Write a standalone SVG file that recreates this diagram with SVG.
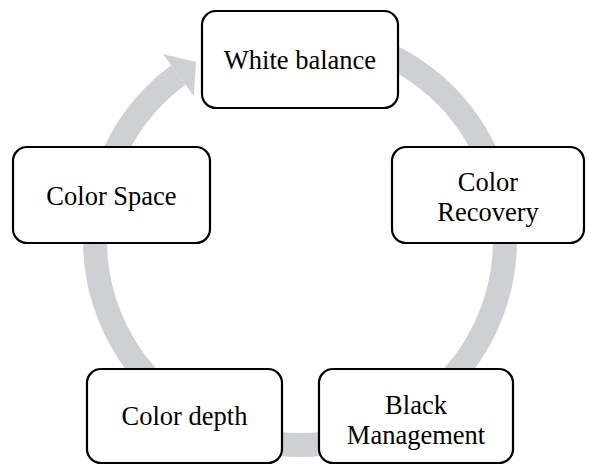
<svg xmlns="http://www.w3.org/2000/svg" width="589" height="465" viewBox="0 0 589 465">
  <style>
    .box { fill: #ffffff; stroke: #000000; stroke-width: 2.2; }
    .lbl { font-family: "Liberation Serif", "Times New Roman", Times, serif; font-size: 26.5px; fill: #000000; text-anchor: middle; }
    .ring { fill: none; stroke: #cfd0d3; stroke-width: 24; }
    .head { fill: #cfd0d3; }
  </style>
  <rect width="589" height="465" fill="#ffffff"/>
  <g id="connectors">
    <path class="ring" d="M 335.6 38.1 A 205 205 0 1 1 178.35 75.0"/>
    <polygon class="head" points="162.9,54.1 196,62 193.8,95.9"/>
  </g>
  <g id="white-balance">
    <rect class="box" x="202" y="11" width="196" height="97" rx="14"/>
    <text class="lbl" x="300" y="69">White balance</text>
  </g>
  <g id="color-recovery">
    <rect class="box" x="392" y="147" width="192" height="96" rx="14"/>
    <text class="lbl" x="488" y="191">Color</text>
    <text class="lbl" x="488" y="221">Recovery</text>
  </g>
  <g id="black-management">
    <rect class="box" x="319" y="369" width="194" height="94" rx="14"/>
    <text class="lbl" x="416" y="414">Black</text>
    <text class="lbl" x="416" y="444">Management</text>
  </g>
  <g id="color-depth">
    <rect class="box" x="87" y="369" width="195" height="94" rx="14"/>
    <text class="lbl" x="184.5" y="425">Color depth</text>
  </g>
  <g id="color-space">
    <rect class="box" x="13" y="147" width="197" height="96" rx="14"/>
    <text class="lbl" x="111.5" y="205">Color Space</text>
  </g>
</svg>
